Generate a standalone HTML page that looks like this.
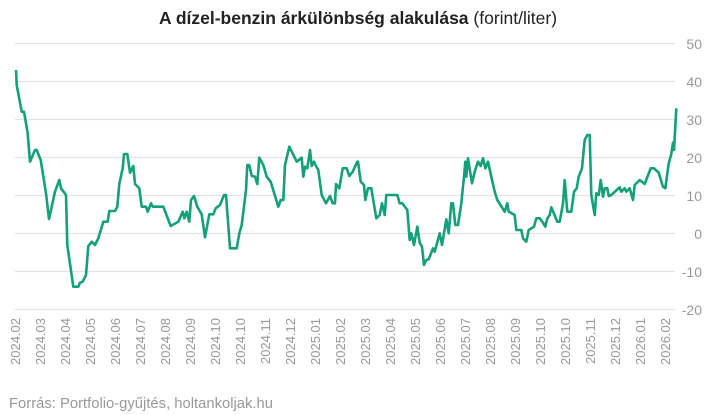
<!DOCTYPE html>
<html><head><meta charset="utf-8"><style>
html,body{margin:0;padding:0;background:#fff;width:718px;height:415px;overflow:hidden}
svg{display:block;font-family:"Liberation Sans",sans-serif}
</style></head><body>
<svg width="718" height="415" viewBox="0 0 718 415">
<text x="358" y="24" text-anchor="middle" font-size="17.5" fill="#222"><tspan font-weight="bold">A dízel-benzin árkülönbség alakulása</tspan> (forint/liter)</text>
<g stroke="#e3e3e3" stroke-width="1.3">
<line x1="15" x2="675" y1="43.5" y2="43.5"/><line x1="15" x2="675" y1="81.5" y2="81.5"/>
<line x1="15" x2="675" y1="119.5" y2="119.5"/><line x1="15" x2="675" y1="157.5" y2="157.5"/>
<line x1="15" x2="675" y1="195.5" y2="195.5"/><line x1="15" x2="675" y1="233.5" y2="233.5"/>
<line x1="15" x2="675" y1="271.5" y2="271.5"/><line x1="15" x2="675" y1="309.5" y2="309.5"/>
</g>
<g font-size="14" fill="#999" text-anchor="end">
<text x="702" y="49">50</text><text x="702" y="87">40</text><text x="702" y="125">30</text><text x="702" y="163">20</text><text x="702" y="201">10</text><text x="702" y="239">0</text><text x="702" y="277">-10</text><text x="702" y="315">-20</text>
</g>
<polyline fill="none" stroke="#13a07a" stroke-width="2.6" stroke-linejoin="round" points="16,70 16.7,85 21.7,111.7 24,111.7 27.7,133.3 30,161.7 35,150 36.7,150 40.7,160 46,193.3 49,219 55,191.7 59.3,180 61,188.3 66,195 67.3,245 73.3,286.7 78.3,286.7 80,282.7 82.7,281.7 86,275 88.3,246 91.7,241.7 95,245 98.3,238.3 103.3,221.7 107.7,221.7 109.3,211 115,211 117.3,206.7 119.3,184 122.7,168.3 124,154 127.3,154 130,172.7 133.3,166 135,184 139.3,188.3 141.7,206.7 146,206.7 147.7,211.7 151,203.3 152.7,206.7 163.3,206.7 170.7,226 178.3,221.7 182.7,211.7 184.3,218.3 186.7,211.7 189.3,221.7 191,200 194,196 197.3,206.7 201.7,214.3 205,237.3 209.3,214.3 213.3,214.3 215.7,208.3 220,205 224,195 226,195 230,248.3 236.7,248.3 239.3,233.3 241.7,225 246,190 247.3,165 249.3,165 251.7,176 255,176.7 257.3,184 259.3,157.7 263.3,165 266.7,176.7 270.7,181.7 278.3,206.7 280.7,200 283.3,200 285,165 289.3,146.7 296.7,161.7 301.7,157.7 303.3,176.7 305,166.7 307.3,168.3 310,150 311.7,166 314,161.7 316,166 318.3,170 321.7,195 326,203.3 330,196 332.7,203.3 335,203.3 336,184 339.3,188.3 342.7,168.3 346.7,168.3 349.3,176 352.7,171.7 357.3,161.7 358,161.7 360.7,181.7 364,185 365.3,200 368,188.3 371.3,188.3 376.3,218.3 379.7,215 382,203.3 384.7,215 386.3,195 397.3,195 399.7,203.3 402.3,203.3 407.3,210 409.7,240 411.3,233.3 414,245 417.3,226.7 419.7,242.7 422,246.7 424,265 426.3,260 428.7,259.3 433,248.3 434.7,251.7 439.7,233.3 442,245 446.3,219.3 448.7,233.3 451.3,203.3 453,203.3 455.3,225 458,225 461.3,203.3 464,176.7 465.3,161.7 466.3,176.7 468,158.3 472,183.3 474.7,171.7 478,161.7 480.7,166 483,158.3 485.3,168.3 488,161.7 491.3,176.7 494.7,191.7 497.3,200 504.7,211.7 507.3,203.3 508.7,211.7 514.7,215 516.3,230 521.3,230 523,238.3 526.3,241.7 528.7,230 534,226.7 536.3,218.3 539.7,218.3 543,222.7 545.3,226.7 547.3,218.3 549.7,215 551.3,207.3 557.3,221.7 559.7,221.7 563,203.3 564.7,180 567.3,211.7 571.3,211.7 574,191.7 576.7,188.3 578.7,176.7 582,168.3 584.7,140 587.3,135 589.7,135 591.3,195 594.7,215 596.3,193.3 598.7,195 600.7,180 603,196.7 604.7,188.3 607.3,188.3 608.7,196 611.3,195 619.7,187.3 621.3,191.7 624.7,188.3 626.3,191.7 629.7,188.3 633,200 634.7,185 639.7,180 644.7,184 650.7,168.3 654,168.3 658.7,172.7 663,186.7 665.3,188.3 668.7,163.3 671.3,154 673,142.7 674,150 676.3,108.3"/>
<g font-size="13" fill="#999" text-anchor="end">
<text transform="translate(20,318) rotate(-90)">2024.02</text>
<text transform="translate(45,318) rotate(-90)">2024.03</text>
<text transform="translate(70,318) rotate(-90)">2024.04</text>
<text transform="translate(95,318) rotate(-90)">2024.05</text>
<text transform="translate(120,318) rotate(-90)">2024.06</text>
<text transform="translate(145,318) rotate(-90)">2024.07</text>
<text transform="translate(170,318) rotate(-90)">2024.08</text>
<text transform="translate(195,318) rotate(-90)">2024.09</text>
<text transform="translate(220,318) rotate(-90)">2024.10</text>
<text transform="translate(245,318) rotate(-90)">2024.10</text>
<text transform="translate(270,318) rotate(-90)">2024.11</text>
<text transform="translate(295,318) rotate(-90)">2024.12</text>
<text transform="translate(320,318) rotate(-90)">2025.01</text>
<text transform="translate(345,318) rotate(-90)">2025.02</text>
<text transform="translate(370,318) rotate(-90)">2025.03</text>
<text transform="translate(395,318) rotate(-90)">2025.04</text>
<text transform="translate(420,318) rotate(-90)">2025.05</text>
<text transform="translate(445,318) rotate(-90)">2025.06</text>
<text transform="translate(470,318) rotate(-90)">2025.07</text>
<text transform="translate(495,318) rotate(-90)">2025.08</text>
<text transform="translate(520,318) rotate(-90)">2025.09</text>
<text transform="translate(545,318) rotate(-90)">2025.10</text>
<text transform="translate(570,318) rotate(-90)">2025.10</text>
<text transform="translate(595,318) rotate(-90)">2025.11</text>
<text transform="translate(620,318) rotate(-90)">2025.12</text>
<text transform="translate(645,318) rotate(-90)">2026.01</text>
<text transform="translate(670,318) rotate(-90)">2026.02</text>
</g>
<text x="9" y="408" font-size="14.8" fill="#999">Forrás: Portfolio-gyűjtés, holtankoljak.hu</text>
</svg>
</body></html>
